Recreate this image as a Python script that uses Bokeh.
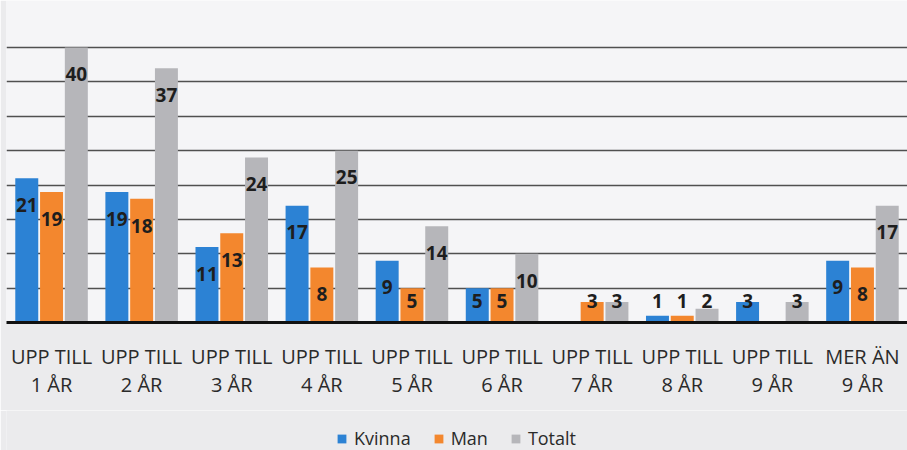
from bokeh.plotting import figure
from bokeh.layouts import column
from bokeh.models import ColumnDataSource, FactorRange, Legend, LegendItem, FixedTicker, Range1d
from bokeh.transform import dodge
from bokeh.core.properties import value
from bokeh.embed import file_html
from bokeh.resources import INLINE

categories = ["UPP TILL\n1 ÅR", "UPP TILL\n2 ÅR", "UPP TILL\n3 ÅR", "UPP TILL\n4 ÅR",
              "UPP TILL\n5 ÅR", "UPP TILL\n6 ÅR", "UPP TILL\n7 ÅR", "UPP TILL\n8 ÅR",
              "UPP TILL\n9 ÅR", "MER ÄN\n9 ÅR"]
kvinna = [21, 19, 11, 17, 9, 5, 0, 1, 3, 9]
man = [19, 18, 13, 8, 5, 5, 3, 1, 0, 8]
totalt = [40, 37, 24, 25, 14, 10, 3, 2, 3, 17]
series_names = ["Kvinna", "Man", "Totalt"]
grid_ticks = [5, 10, 15, 20, 25, 30, 35, 40]

def lab_y(vals):
    return [max(v - 3.9, 3.2) for v in vals]

def lab_t(vals):
    return [str(v) if v > 0 else "" for v in vals]

src = ColumnDataSource(dict(
    cat=categories, kvinna=kvinna, man=man, totalt=totalt,
    ky=lab_y(kvinna), my=lab_y(man), ty=lab_y(totalt),
    kt=lab_t(kvinna), mt=lab_t(man), tt=lab_t(totalt),
))

BG = "#ebebed"
p = figure(width=907, height=410, x_range=FactorRange(*categories, range_padding=0),
           y_range=Range1d(0, 46.84), output_backend="svg", toolbar_location=None,
           min_border_left=6, min_border_right=0, min_border_top=0, min_border_bottom=88)
p.background_fill_color = "#f5f5f7"
p.border_fill_color = BG
p.outline_line_color = None

colors = ["#2c82d4", "#f3872e", "#b6b6ba"]
offs = [-0.275, 0.0, 0.275]
keys = [("kvinna", "ky", "kt"), ("man", "my", "mt"), ("totalt", "ty", "tt")]
for (top, ly, lt), c, o in zip(keys, colors, offs):
    p.vbar(x=dodge("cat", o, range=p.x_range), top=top, width=0.255, source=src,
           fill_color=c, line_color=None)
    p.text(x=dodge("cat", o, range=p.x_range), y=ly, text=lt, source=src,
           text_align="center", text_baseline="middle", text_font=value("Open Sans"),
           text_font_size="19px", text_font_style="bold", text_color="#1e1e1e")

p.yaxis.visible = False
p.xgrid.visible = False
p.ygrid.ticker = FixedTicker(ticks=grid_ticks)
p.ygrid.grid_line_color = "#505050"
p.ygrid.grid_line_width = 1.5

ax = p.xaxis[0]
ax.axis_line_color = "#111111"
ax.axis_line_width = 3
ax.major_tick_line_color = None
ax.minor_tick_line_color = None
ax.major_label_standoff = 14
ax.major_label_text_font = "Open Sans"
ax.major_label_text_font_size = "20px"
ax.major_label_text_color = "#2a2a2a"
ax.major_label_text_line_height = 1.05

# legend strip (legend renderers are zero-size bars: only their legend swatches show)
lg = figure(width=907, height=40, x_range=Range1d(-100, -99), y_range=Range1d(0, 1),
            output_backend="svg", toolbar_location=None,
            min_border_left=0, min_border_right=0, min_border_top=0, min_border_bottom=0)
lg.axis.visible = False
lg.grid.visible = False
lg.outline_line_color = None
lg.background_fill_color = BG
lg.border_fill_color = BG
items = []
for name, field, c in zip(series_names, ["kvinna", "man", "totalt"], colors):
    r = lg.vbar(x=field, top=field, bottom=field, width=0.0, source=src,
                fill_color=c, line_color=None)
    items.append(LegendItem(label=name, renderers=[r]))
legend = Legend(items=items, orientation="horizontal", location=(330, 0))
legend.background_fill_alpha = 0
legend.border_line_color = None
legend.label_text_font = "Open Sans"
legend.label_text_font_size = "18px"
legend.label_text_color = "#2a2a2a"
legend.glyph_width = 11
legend.glyph_height = 11
legend.spacing = 22
legend.label_standoff = 7
legend.padding = 2
legend.margin = 0
lg.add_layout(legend, "center")

layout = column(p, lg, spacing=0)
open("out.html", "w").write(file_html(layout, INLINE))
